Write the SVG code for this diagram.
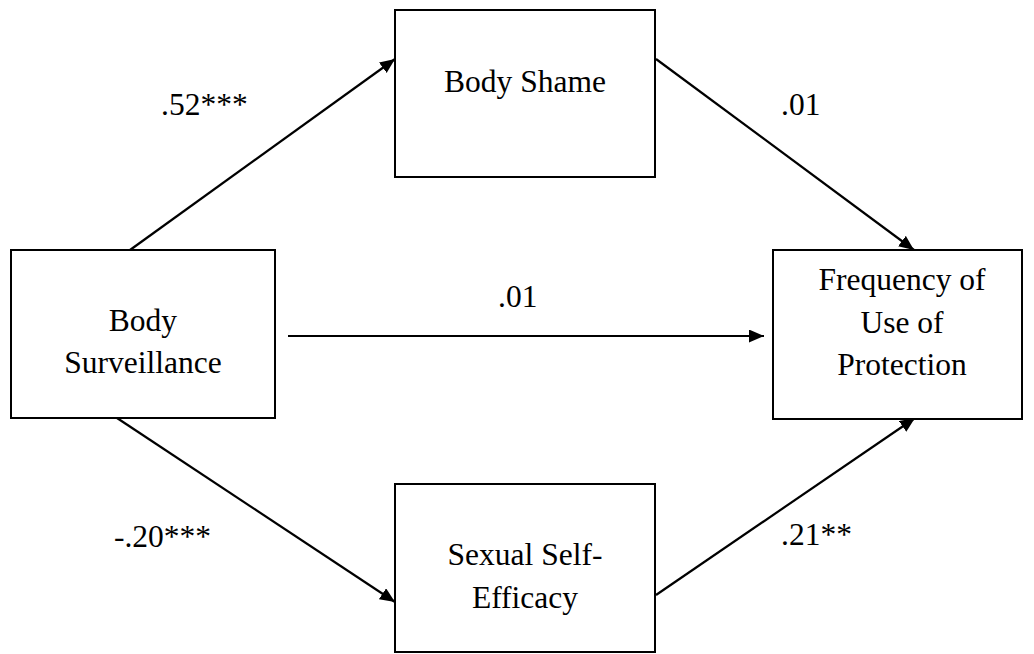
<svg xmlns="http://www.w3.org/2000/svg" width="1034" height="654" viewBox="0 0 1034 654">
<style>
.box{fill:#fff;stroke:#000;stroke-width:2}
.t{font-family:'Liberation Serif','DejaVu Serif',serif;font-size:31.5px;fill:#000}
.m{text-anchor:middle}
.e{stroke:#000;stroke-width:2.2;fill:none;marker-end:url(#ah)}
</style>
<defs>
<marker id="ah" markerUnits="userSpaceOnUse" markerWidth="16" markerHeight="14" refX="15" refY="6.5" orient="auto">
<path d="M0,0 L15,6.5 L0,13 z" fill="#000"/>
</marker>
</defs>
<rect width="1034" height="654" fill="#fff"/>
<g id="connectors">
<line class="e" x1="130" y1="250" x2="395" y2="59"/>
<line class="e" x1="656" y1="59" x2="914" y2="250"/>
<line class="e" x1="288" y1="336" x2="764" y2="336"/>
<line class="e" x1="117" y1="418" x2="395" y2="602"/>
<line class="e" x1="656" y1="595" x2="915" y2="418"/>
<text class="t" x="161" y="115">.52***</text>
<text class="t" x="781" y="115">.01</text>
<text class="t" x="498" y="307">.01</text>
<text class="t" x="114" y="547">-.20***</text>
<text class="t" x="781" y="545">.21**</text>
</g>
<g id="body-shame">
<rect class="box" x="395" y="10" width="260" height="167"/>
<text class="t m" x="525" y="92">Body Shame</text>
</g>
<g id="body-surveillance">
<rect class="box" x="11" y="250" width="264" height="168"/>
<text class="t m" x="143" y="331">Body</text>
<text class="t m" x="143" y="373">Surveillance</text>
</g>
<g id="frequency">
<rect class="box" x="773" y="250" width="249" height="169"/>
<text class="t m" x="902" y="290">Frequency of</text>
<text class="t m" x="902" y="333">Use of</text>
<text class="t m" x="902" y="375">Protection</text>
</g>
<g id="sexual-self-efficacy">
<rect class="box" x="395" y="484" width="260" height="168"/>
<text class="t m" x="525" y="565">Sexual Self-</text>
<text class="t m" x="525" y="608">Efficacy</text>
</g>
</svg>
